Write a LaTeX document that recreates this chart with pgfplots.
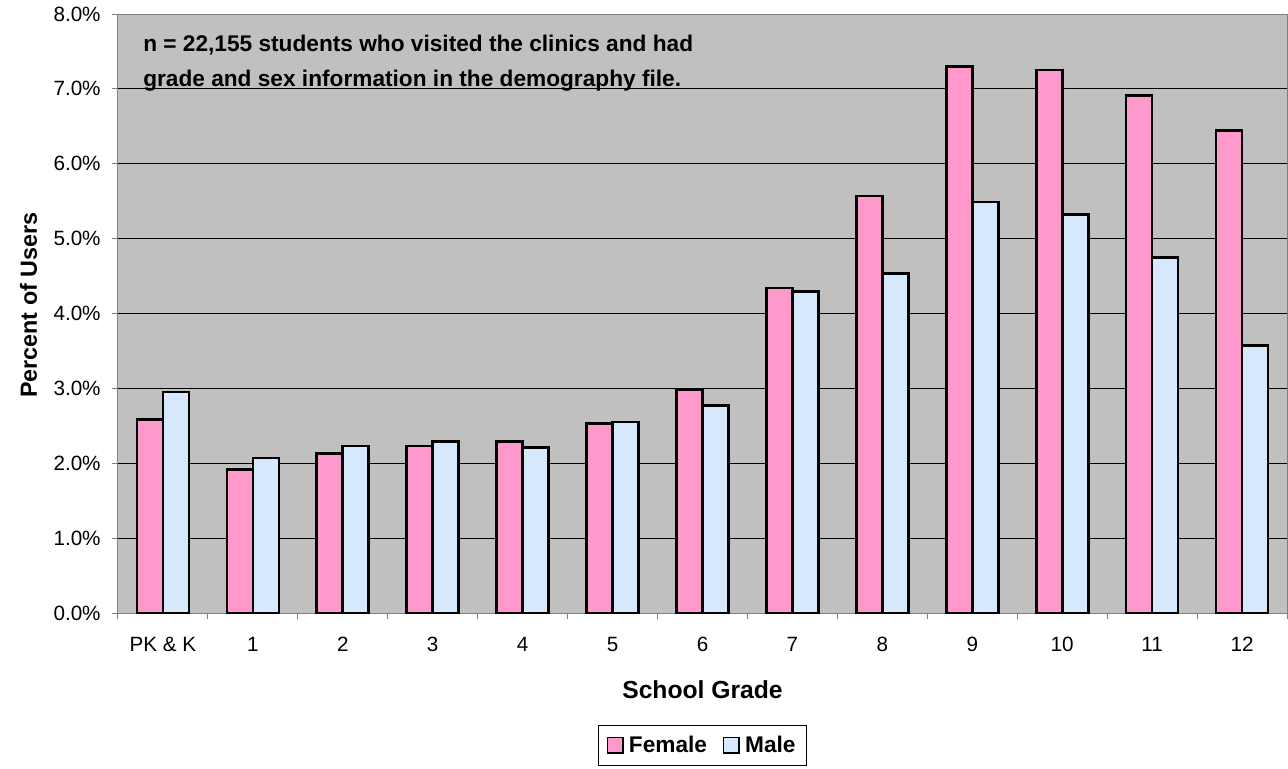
\documentclass[border=0pt]{standalone}
\usepackage{fontspec}
\setmainfont{Liberation Sans}
\usepackage{pgfplots}
\pgfplotsset{compat=1.18}

\definecolor{femalepink}{RGB}{255,153,204}
\definecolor{maleblue}{RGB}{214,232,252}
\definecolor{plotgray}{RGB}{192,192,192}
\definecolor{framegray}{RGB}{128,128,128}

\pgfplotsset{
  sqlegend/.style={
    legend image code/.code={
      \draw[##1, line width=1pt] (0pt,-5.8pt) rectangle (11.6pt,5.8pt);
    }
  }
}

\begin{document}
\begin{tikzpicture}
\path[use as bounding box] (-88.5pt,-116.25pt) rectangle (877.5pt,459.75pt);
\begin{axis}[
  at={(0,0)}, anchor=south west,
  scale only axis, width=876.75pt, height=449.25pt,
  xmin=-0.5, xmax=12.5, ymin=0, ymax=8,
  axis background/.style={fill=plotgray},
  axis line style={framegray, line width=0.75pt},
  ybar=0pt, bar width=19.5pt,
  xtick={0,...,12},
  xticklabels={PK \& K,1,2,3,4,5,6,7,8,9,10,11,12},
  major x tick style={draw=none},
  minor xtick={-0.5,0.5,...,12.5},
  xtick pos=bottom, ytick pos=left,
  ytick={0,1,...,8},
  yticklabel={\pgfmathprintnumber[fixed,fixed zerofill,precision=1]{\tick}\%},
  /pgf/number format/assume math mode=true,
  ymajorgrids,
  grid style={black, line width=0.75pt},
  tick style={framegray, line width=0.75pt},
  tick align=outside,
  major tick length=4.5pt, minor tick length=4.5pt,
  tick label style={font=\fontsize{15.5}{18}\selectfont},
  xticklabel style={yshift=-10pt},
  yticklabel style={xshift=-5pt},
  xlabel={School Grade},
  ylabel={Percent of Users},
  xlabel style={font=\bfseries\fontsize{18.5}{22}\selectfont, at={(axis description cs:0.5,-0.1285)}, anchor=center},
  ylabel style={font=\bfseries\fontsize{17.5}{21}\selectfont, at={(axis description cs:-0.0765,0.514)}, anchor=center},
  legend columns=2,
  legend style={
    at={(axis description cs:0.5,-0.187)}, anchor=north,
    draw=black, fill=white, line width=0.75pt,
    font=\bfseries\fontsize{17}{20}\selectfont,
    inner xsep=6pt, inner ysep=6pt,
    /tikz/every odd column/.append style={column sep=2pt},
    /tikz/every even column/.append style={column sep=10pt},
  },
]
\addplot+[sqlegend, fill=femalepink, draw=black, line width=2pt] coordinates {
  (0,2.58) (1,1.92) (2,2.13) (3,2.23) (4,2.29) (5,2.53) (6,2.98)
  (7,4.34) (8,5.57) (9,7.30) (10,7.25) (11,6.91) (12,6.44)
};
\addplot+[sqlegend, fill=maleblue, draw=black, line width=2pt] coordinates {
  (0,2.95) (1,2.07) (2,2.23) (3,2.29) (4,2.21) (5,2.55) (6,2.77)
  (7,4.29) (8,4.53) (9,5.49) (10,5.32) (11,4.75) (12,3.57)
};
\legend{Female,Male}
\node[anchor=base west, inner sep=0pt, font=\bfseries\fontsize{17}{20}\selectfont]
  at (rel axis cs:0.0214,0.9366) {n = 22,155 students who visited the clinics and had};
\node[anchor=base west, inner sep=0pt, font=\bfseries\fontsize{17}{20}\selectfont]
  at (rel axis cs:0.0214,0.8782) {grade and sex information in the demography file.};
\end{axis}
\end{tikzpicture}
\end{document}
